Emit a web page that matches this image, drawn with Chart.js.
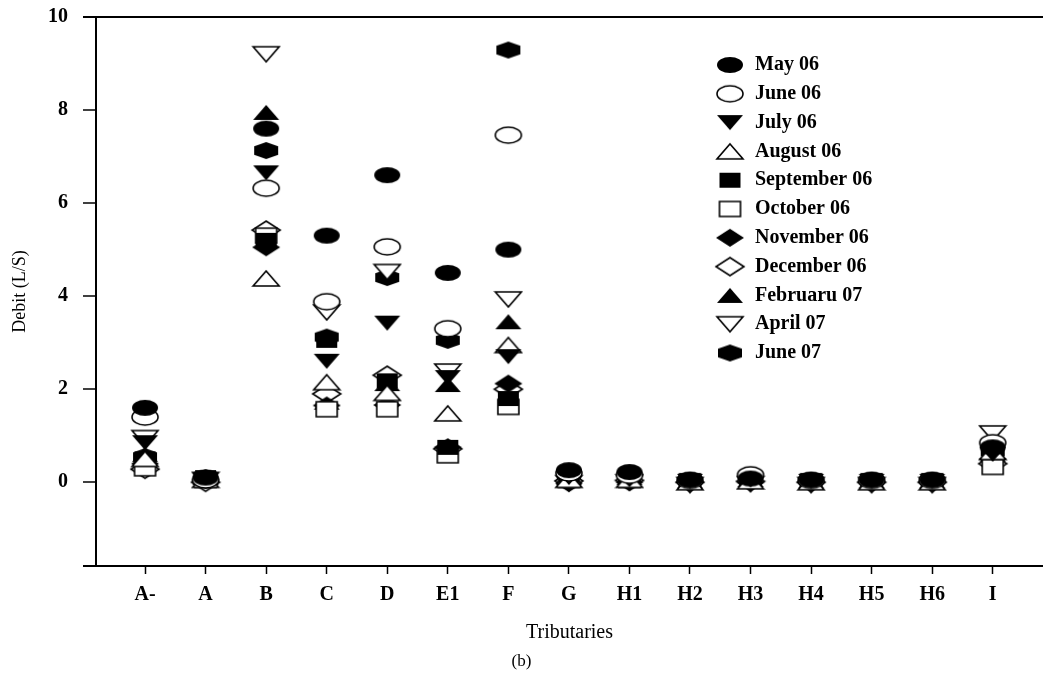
<!DOCTYPE html>
<html>
<head>
<meta charset="utf-8">
<script src="https://cdn.jsdelivr.net/npm/chart.js@4.4.1/dist/chart.umd.min.js"></script>
<style>
  html, body { margin: 0; padding: 0; background: #fff; }
  #wrap { position: relative; width: 1043px; height: 678px; }
</style>
</head>
<body>
<div id="wrap"><canvas id="c"></canvas></div>
<script>
// ---- Data ----
const categories = ['A-', 'A', 'B', 'C', 'D', 'E1', 'F', 'G', 'H1', 'H2', 'H3', 'H4', 'H5', 'H6', 'I'];
const seriesNames = ['May 06', 'June 06', 'July 06', 'August 06', 'September 06', 'October 06',
                     'November 06', 'December 06', 'Februaru 07', 'April 07', 'June 07'];
const may06 = [1.60, 0.10, 7.60, 5.30, 6.60, 4.50, 5.00, 0.26, 0.22, 0.05, 0.08, 0.05, 0.05, 0.05, 0.75];
const june06 = [1.40, 0.05, 6.32, 3.88, 5.06, 3.30, 7.46, 0.20, 0.15, 0.04, 0.16, 0.04, 0.04, 0.04, 0.85];
const july06 = [0.85, 0.05, 6.65, 2.60, 3.42, 2.25, 2.70, 0.10, 0.05, 0.02, 0.05, 0.02, 0.02, 0.02, 0.60];
const august06 = [0.50, 0.05, 4.38, 2.15, 1.92, 1.48, 2.95, 0.05, 0.05, 0.00, 0.02, 0.00, 0.00, 0.00, 0.65];
const september06 = [0.50, 0.10, 5.20, 3.05, 2.18, 0.75, 1.80, 0.15, 0.10, 0.03, 0.06, 0.03, 0.03, 0.03, 0.70];
const october06 = [0.30, 0.05, 5.30, 1.57, 1.57, 0.58, 1.62, 0.05, 0.05, 0.02, 0.04, 0.02, 0.02, 0.02, 0.33];
const november06 = [0.40, 0.05, 5.05, 1.65, 1.66, 0.75, 2.12, -0.02, 0.00, 0.00, 0.00, 0.00, 0.00, 0.00, 0.50];
const december06 = [0.28, 0.00, 5.42, 1.90, 2.30, 0.72, 2.00, 0.03, 0.04, 0.00, 0.02, 0.00, 0.00, 0.00, 0.40];
const februaru07 = [0.60, 0.10, 7.95, 1.72, 2.12, 2.10, 3.45, 0.10, 0.10, 0.03, 0.06, 0.03, 0.03, 0.03, 0.60];
const april07 = [0.95, 0.05, 9.20, 3.65, 4.52, 2.38, 3.93, -0.02, 0.00, -0.06, -0.04, -0.06, -0.06, -0.06, 1.05];
const june07 = [0.55, 0.10, 7.13, 3.12, 4.40, 3.05, 9.29, 0.15, 0.15, 0.04, 0.06, 0.04, 0.04, 0.04, 0.65];
const seriesValues = [may06, june06, july06, august06, september06, october06,
                      november06, december06, februaru07, april07, june07];
const yTickValues = [0, 2, 4, 6, 8, 10];
const yMin = -1.8, yMax = 10;
const xMin = -0.81, xMax = 14.83;

// ---- Marker styles ----
const markerStyles = [
  ['ellipse', true], ['ellipse', false], ['triDown', true], ['triUp', false],
  ['rect', true], ['rect', false], ['diamond', true], ['diamond', false],
  ['triUp', true], ['triDown', false], ['hexagon', true]
];
const markerDims = {
  ellipse: [26, 16], triDown: [26, 15], triUp: [26, 15], rect: [21, 15], diamond: [28, 18], hexagon: [24, 17]
};
function makeMarker(shape, filled) {
  const [w, h] = markerDims[shape];
  const pad = 2;
  const c = document.createElement('canvas');
  c.width = w + pad * 2; c.height = h + pad * 2;
  const g = c.getContext('2d');
  g.translate(c.width / 2, c.height / 2);
  const hw = w / 2, hh = h / 2;
  g.beginPath();
  if (shape === 'ellipse') {
    g.ellipse(0, 0, hw, hh, 0, 0, Math.PI * 2);
  } else if (shape === 'triUp') {
    g.moveTo(0, -hh); g.lineTo(hw, hh); g.lineTo(-hw, hh); g.closePath();
  } else if (shape === 'triDown') {
    g.moveTo(-hw, -hh); g.lineTo(hw, -hh); g.lineTo(0, hh); g.closePath();
  } else if (shape === 'rect') {
    g.rect(-hw, -hh, w, h);
  } else if (shape === 'diamond') {
    g.moveTo(0, -hh); g.lineTo(hw, 0); g.lineTo(0, hh); g.lineTo(-hw, 0); g.closePath();
  } else if (shape === 'hexagon') {
    g.moveTo(0, -hh); g.lineTo(hw, -hh * 0.5); g.lineTo(hw, hh * 0.5);
    g.lineTo(0, hh); g.lineTo(-hw, hh * 0.5); g.lineTo(-hw, -hh * 0.5); g.closePath();
  }
  if (filled) {
    g.fillStyle = '#000'; g.fill();
  } else {
    g.fillStyle = '#fff'; g.fill();
    g.lineWidth = 1.6; g.strokeStyle = '#000'; g.stroke();
  }
  return c;
}

const datasets = seriesNames.map((name, k) => {
  const img = makeMarker(markerStyles[k][0], markerStyles[k][1]);
  return {
    label: name,
    data: categories.map((cat, i) => ({ x: i, y: seriesValues[k][i] })),
    pointStyle: img,
    pointRadius: 10,
    backgroundColor: '#000',
    borderColor: '#000',
    showLine: false
  };
});

const serif = 'Liberation Serif';

const legendMover = {
  id: 'legendMover',
  afterLayout(chart) {
    const lg = chart.legend;
    if (!lg) return;
    const w = lg.width;
    lg.left = 706.2;
    lg.top = 46.2;
    lg.right = lg.left + w;
    lg.bottom = chart.chartArea.bottom;
  }
};

new Chart(document.getElementById('c'), {
  type: 'scatter',
  data: { datasets },
  plugins: [legendMover],
  options: {
    responsive: true,
    maintainAspectRatio: false,
    animation: false,
    clip: false,
    layout: { autoPadding: false, padding: { top: 17, left: 0, right: 0, bottom: 0 } },
    plugins: {
      tooltip: { enabled: false },
      title: { display: false },
      subtitle: {
        display: true, text: '(b)', position: 'bottom', color: '#000',
        font: { family: serif, size: 17, weight: 'normal' },
        padding: { top: 4, bottom: 6 }
      },
      legend: {
        display: true,
        position: 'chartArea',
        align: 'start',
        labels: {
          usePointStyle: true,
          pointStyleWidth: 30,
          padding: 8.8,
          color: '#000',
          font: { family: serif, size: 20, weight: 'bold' }
        }
      }
    },
    scales: {
      x: {
        type: 'linear',
        position: 'bottom',
        min: xMin, max: xMax,
        afterBuildTicks: (scale) => { scale.ticks = categories.map((c, i) => ({ value: i })); },
        afterFit: (scale) => { scale.height = 81.6; scale.paddingLeft = 0; scale.paddingRight = 0; },
        ticks: {
          color: '#000',
          padding: 9,
          maxRotation: 0,
          autoSkip: false,
          font: { family: serif, size: 20, weight: 'bold' },
          callback: (v) => (categories[v] !== undefined ? categories[v] : '')
        },
        grid: {
          drawOnChartArea: false,
          drawTicks: true,
          tickLength: 8,
          tickColor: '#000',
          tickWidth: 1.5,
          color: '#000'
        },
        border: { display: true, color: '#000', width: 2 },
        title: {
          display: true, text: 'Tributaries', color: '#000',
          font: { family: serif, size: 20, weight: 'normal' },
          padding: { top: 0, bottom: 3 }
        }
      },
      y: {
        type: 'linear',
        position: 'left',
        min: yMin, max: yMax,
        afterBuildTicks: (scale) => { scale.ticks = [yMin].concat(yTickValues).map(v => ({ value: v })); },
        afterFit: (scale) => { scale.width = 96; scale.paddingTop = 0; scale.paddingBottom = 0; },
        ticks: {
          color: '#000',
          padding: 15,
          font: { family: serif, size: 20, weight: 'bold' },
          callback: (v) => (v === yMin ? '' : String(v))
        },
        grid: {
          drawOnChartArea: true,
          drawTicks: true,
          tickLength: 13,
          tickColor: '#000',
          tickWidth: (ctx) => (ctx.tick && (ctx.tick.value === yMin || ctx.tick.value === yMax) ? 2 : 1.5),
          color: (ctx) => (ctx.tick && ctx.tick.value === yMax ? '#000' : 'rgba(0,0,0,0)'),
          lineWidth: 2
        },
        border: { display: true, color: '#000', width: 2 },
        title: {
          display: true, text: 'Debit (L/S)', color: '#000',
          font: { family: serif, size: 18, weight: 'normal' },
          padding: { top: 9, bottom: 0 }
        }
      }
    }
  }
});
</script>
</body>
</html>
